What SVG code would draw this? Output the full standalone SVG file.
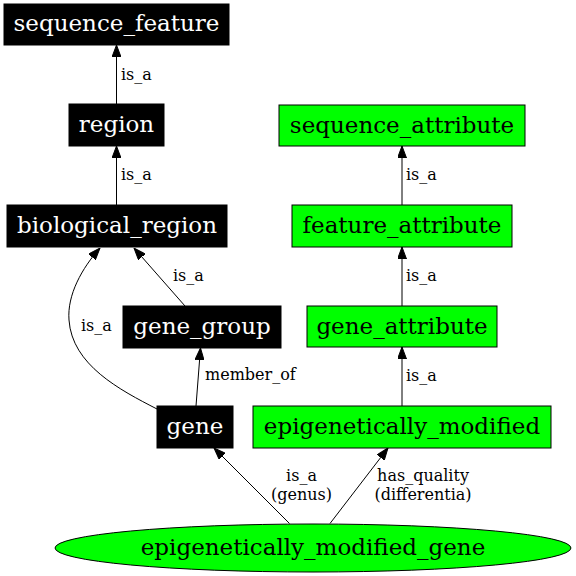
<svg xmlns="http://www.w3.org/2000/svg" width="576" height="576" viewBox="0 0 576 576">
<style>
.bk rect{fill:#000;stroke:#000;stroke-width:1}
.gr rect,.gr ellipse{fill:#00ff00;stroke:#000;stroke-width:1}
.bk text{fill:#fff}
text{font-family:"DejaVu Serif","Liberation Serif",serif;}
.n{font-size:23px;text-anchor:middle}
.l{font-size:16px;fill:#000}
.lc{text-anchor:middle}
#edges path{fill:none;stroke:#000;stroke-width:1;marker-end:url(#arr)}
</style>
<defs>
<marker id="arr" markerUnits="userSpaceOnUse" markerWidth="12" markerHeight="9" refX="12" refY="4.5" orient="auto" viewBox="0 0 12 9">
<path d="M0,0 L12,4.5 L0,9 z" fill="#000" stroke="#000" stroke-width="1"/>
</marker>
</defs>
<rect width="576" height="576" fill="#fff"/>
<g id="edges">
<path d="M116.5,104 L116.5,45"/>
<path d="M116.5,205 L116.5,146"/>
<path d="M185,306 L134,248"/>
<path d="M157,409 C120,390 72,365 69,320 C67,295 82,268 100,248"/>
<path d="M196,406 L200.5,348"/>
<path d="M402,406 L402,347"/>
<path d="M402,306 L402,247"/>
<path d="M402,205 L402,146"/>
<path d="M289.5,523.5 L214,448"/>
<path d="M330,523.5 L388,448"/>
<text class="l" x="121" y="80">is_a</text>
<text class="l" x="121" y="180">is_a</text>
<text class="l" x="173" y="281">is_a</text>
<text class="l" x="81" y="331">is_a</text>
<text class="l" x="205" y="380">member_of</text>
<text class="l" x="406" y="180">is_a</text>
<text class="l" x="406" y="281">is_a</text>
<text class="l" x="406" y="381">is_a</text>
<text class="l lc" x="301.5" y="480.5">is_a</text>
<text class="l lc" x="301.5" y="499.5">(genus)</text>
<text class="l lc" x="423" y="480.5">has_quality</text>
<text class="l lc" x="423" y="499.5">(differentia)</text>
</g>
<g id="sequence_feature" class="bk"><rect x="4" y="4" width="225" height="41"/><text class="n" x="116.5" y="31">sequence_feature</text></g>
<g id="region" class="bk"><rect x="69" y="104" width="95" height="42"/><text class="n" x="116.5" y="132">region</text></g>
<g id="biological_region" class="bk"><rect x="7" y="205" width="220" height="42"/><text class="n" x="117" y="233">biological_region</text></g>
<g id="gene_group" class="bk"><rect x="123" y="306" width="158" height="42"/><text class="n" x="202" y="334">gene_group</text></g>
<g id="gene" class="bk"><rect x="157" y="406" width="76" height="42"/><text class="n" x="195" y="434">gene</text></g>
<g id="sequence_attribute" class="gr"><rect x="279" y="105" width="246" height="41"/><text class="n" x="402" y="133">sequence_attribute</text></g>
<g id="feature_attribute" class="gr"><rect x="292" y="205" width="220" height="42"/><text class="n" x="402" y="233">feature_attribute</text></g>
<g id="gene_attribute" class="gr"><rect x="307" y="306" width="190" height="41"/><text class="n" x="402" y="334">gene_attribute</text></g>
<g id="epigenetically_modified" class="gr"><rect x="253" y="406" width="298" height="42"/><text class="n" x="402" y="434">epigenetically_modified</text></g>
<g id="epigenetically_modified_gene" class="gr"><ellipse cx="313" cy="548" rx="258" ry="24"/><text class="n" x="313" y="555">epigenetically_modified_gene</text></g>
</svg>
